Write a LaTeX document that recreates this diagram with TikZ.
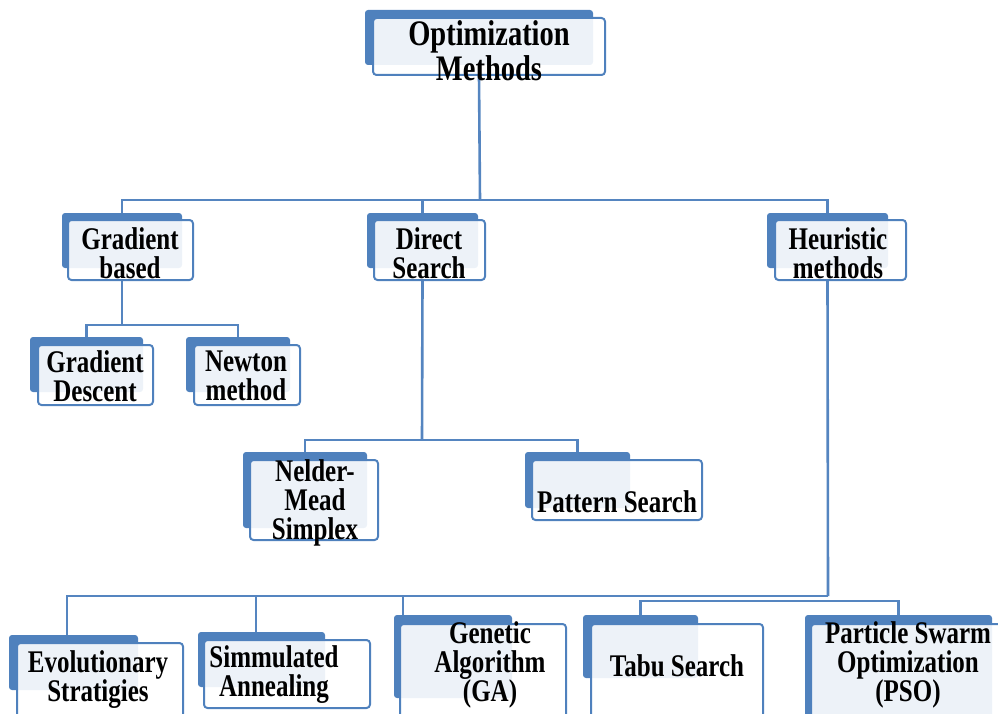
\documentclass[tikz,border=0pt]{standalone}
\usepackage{fontspec}
\setmainfont{Liberation Serif}
\usetikzlibrary{fit,backgrounds}
\definecolor{boxblue}{HTML}{4F81BD}
\definecolor{lineblue}{HTML}{5585C0}
\tikzset{
  backbox/.style={fill=boxblue, rounded corners=3pt, inner sep=0pt, draw=none},
  frontbox/.style={draw=boxblue, line width=2pt, fill=white, fill opacity=0.9, rounded corners=3.5pt, inner sep=0pt},
  txt/.style={font=\fontsize{25}{23}\selectfont\bfseries, align=center, inner sep=0pt, yscale=1.26, transform shape},
  toptxt/.style={font=\fontsize{28.5}{28}\selectfont\bfseries, align=center, inner sep=0pt, yscale=1.26, transform shape},
  conn/.style={draw=lineblue, line width=2.6pt}
}
\newcommand\obox[9]{%
  \node[backbox, fit={(#2,#3)(#4,#5)}] (b-#1) {};
  \node[frontbox, fit={(#6,#7)(#8,#9)}] (f-#1) {};
}
\begin{document}
\begin{tikzpicture}[x=1pt,y=-1pt]
\useasboundingbox (0,0) rectangle (998,714);
% boxes
\obox{top}{365}{10}{593}{65}{373}{18}{605}{75}
\node[toptxt] (t-top) at (489,51) {Optimization\\Methods};
\obox{gb}{62}{213}{182}{268}{68}{220}{193}{280}
\node[txt] (t-gb) at (130,253) {Gradient\\based};
\obox{ds}{367}{213}{478}{268}{374}{220}{485}{280}
\node[txt] (t-ds) at (429,253) {Direct\\Search};
\obox{hm}{767}{213}{888}{268}{775}{220}{906}{280}
\node[txt] (t-hm) at (838,253) {Heuristic\\methods};
\obox{gd}{30}{337}{143}{392}{38}{345}{153}{405}
\node[txt] (t-gd) at (95,376) {Gradient\\Descent};
\obox{nm}{186}{337}{290}{392}{194}{345}{300}{405}
\node[txt] (t-nm) at (246,376) {Newton\\method};
\obox{nel}{243}{452}{367}{528}{250}{460}{378}{540}
\node[txt] (t-nel) at (315,503) {Nelder-\\Mead\\Simplex};
\obox{ps}{525}{452}{630}{508}{532}{460}{702}{520}
\node[txt] (t-ps) at (617,502) {Pattern Search};
\obox{es}{9}{635}{138}{690}{17}{643}{183}{724}
\node[txt] (t-es) at (98,680) {Evolutionary\\Stratigies};
\obox{sa}{198}{632}{325}{687}{204}{640}{370}{708}
\node[txt] (t-sa) at (274,675) {Simmulated\\Annealing};
\obox{ga}{394}{615}{512}{698}{400}{624}{566}{730}
\node[txt] (t-ga) at (490,665) {Genetic\\Algorithm\\(GA)};
\obox{ts}{583}{615}{698}{678}{591}{624}{763}{730}
\node[txt] (t-ts) at (677,666) {Tabu Search};
\obox{pso}{805}{615}{992}{717}{811}{624}{1006}{730}
\node[txt] (t-pso) at (908,665) {Particle Swarm\\Optimization\\(PSO)};
% junctions
\coordinate (j1) at (480,200);
\coordinate (j2) at (122,325);
\coordinate (j3) at (422,440);
\coordinate (j4) at (828,596);
\coordinate (j5) at (700,601);
\coordinate (d-es) at (67,635);
\coordinate (d-sa) at (256,632);
\coordinate (d-ga) at (403,615);
\begin{scope}[on background layer]
\draw[conn] (f-top.south -| b-top) -- (j1);
\draw[conn] (b-gb.north) |- (j1) -| (b-hm.north);
\draw[conn] (j1 -| b-ds) -- (b-ds.north);
\draw[conn] (f-gb.south -| b-gb) -- (j2);
\draw[conn] (b-gd.north) |- (j2) -| (b-nm.north);
\draw[conn] (f-ds.south -| b-ds) -- (j3);
\draw[conn] (b-nel.north) |- (j3) -| (b-ps.north);
\draw[conn] (f-hm.south -| b-hm) -- (j4);
\draw[conn] (j4) -| (d-es);
\draw[conn] (d-sa) -- (d-sa |- j4);
\draw[conn] (d-ga) -- (d-ga |- j4);
\draw[conn] (b-ts.north) |- (j5) -| (b-pso.north);
\end{scope}
\end{tikzpicture}
\end{document}
